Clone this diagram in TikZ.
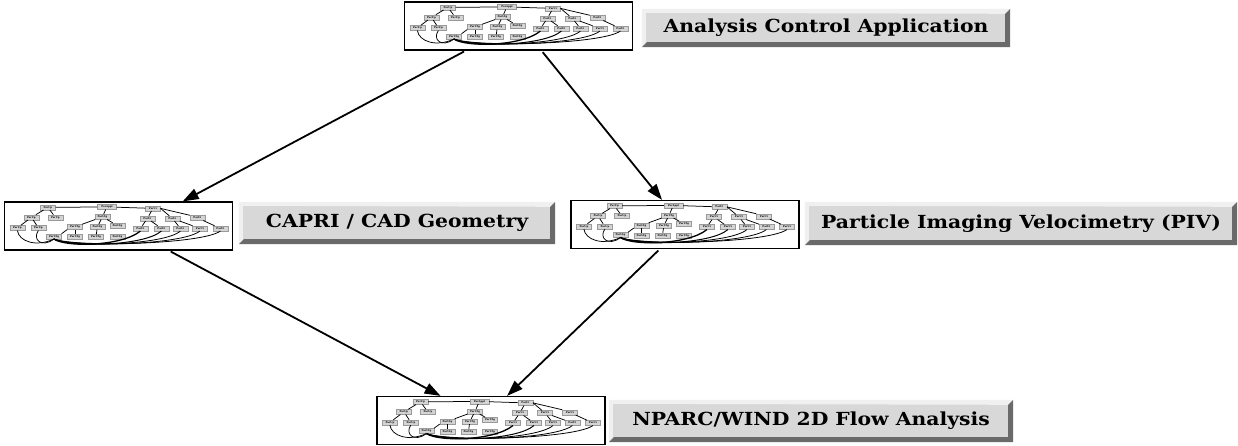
\documentclass[tikz,border=0pt]{standalone}
\usepackage{fontspec}
\setmainfont{DejaVu Serif}
\newfontfamily\lblfont[FakeStretch=1.13]{DejaVu Serif}
\usetikzlibrary{arrows.meta,calc}
\definecolor{bvface}{HTML}{D8D8D8}
\definecolor{bvlight}{HTML}{F0F0F0}
\definecolor{bvdark}{HTML}{6A6A6A}
\definecolor{minifill}{HTML}{D4D4D4}
\definecolor{miniedge}{HTML}{9A9A9A}
\newcommand{\bevelbox}[1]{%
 \fill[bvlight] (#1.south west) -- (#1.north west) -- (#1.north east) -- ($(#1.north east)+(-5,5)$) -- ($(#1.north west)+(4,4)$) -- ($(#1.south west)+(4,-5)$) -- cycle;
 \fill[bvdark] (#1.south west) -- (#1.south east) -- (#1.north east) -- ($(#1.north east)+(-5,5)$) -- ($(#1.south east)+(-5,-5)$) -- ($(#1.south west)+(5,-5)$) -- cycle;}
\tikzset{
 lbl/.style={fill=bvface, inner sep=0pt, font=\lblfont\fontsize{18}{20}\selectfont\bfseries},
 frame/.style={draw=black, line width=1.2pt, minimum width=228, minimum height=48, inner sep=0pt, fill=white},
 mini/.style={draw=miniedge, fill=minifill, line width=0.3pt, inner sep=0.4pt, minimum width=15, minimum height=5, font=\fontsize{2.5}{2.7}\selectfont\bfseries},
 minil/.style={line width=0.75pt},
 arr/.style={line width=1.8pt, -{Triangle[length=16pt,width=11pt]}},
 thumb/.pic={
  \node[mini] (-u0) at (44,6) {ParUp};
  \node[mini,minimum width=19] (-ap) at (103,5.5) {ParAppl};
  \node[mini] (-i0) at (149,7) {ParUi};
  \node[mini] (-u1) at (27.5,16) {ParUp};
  \node[mini] (-u2) at (51.5,16) {ParUp};
  \node[mini] (-f0) at (98.5,15.5) {ParUfg};
  \node[mini] (-i1) at (143.5,17) {ParUi};
  \node[mini] (-i2) at (168.5,17) {ParUi};
  \node[mini] (-i3) at (193.5,16.5) {ParUi};
  \node[mini] (-u3) at (13.5,26.5) {ParUp};
  \node[mini] (-u4) at (34.5,26.5) {ParUp};
  \node[mini] (-f1) at (71,25.5) {ParUfg};
  \node[mini] (-f2) at (93.5,25.5) {ParUfg};
  \node[mini] (-f3) at (113.5,24) {ParUfg};
  \node[mini] (-i4) at (136.5,27) {ParUi};
  \node[mini] (-i5) at (157.5,27) {ParUi};
  \node[mini] (-i6) at (176.5,27) {ParUi};
  \node[mini] (-i7) at (196,27) {ParUi};
  \node[mini] (-i8) at (216.5,27) {ParUi};
  \node[mini] (-f4) at (50,35) {ParUfg};
  \node[mini] (-f5) at (71,35.5) {ParUfg};
  \node[mini] (-f6) at (92,35.5) {ParUfg};
  \node[mini] (-f7) at (113.5,35.5) {ParUfg};
  \draw[minil] (-u0) -- (-ap);
  \draw[minil] (-ap) -- (-i0);
  \draw[minil] (-u0) -- (-u1);
  \draw[minil] (-u0) -- (-u2);
  \draw[minil] (-u1) -- (-u3);
  \draw[minil] (-u1) -- (-u4);
  \draw[minil] (-ap) -- (-f0);
  \draw[minil] (-f0) -- (-f1);
  \draw[minil] (-f0) -- (-f2);
  \draw[minil] (-f0) -- (-f3);
  \draw[minil] (-f1) -- (-f5);
  \draw[minil] (-f2) -- (-f6);
  \draw[minil] (-f1.south west) -- (-f4.north east);
  \draw[minil] (-i0) -- (-i1);
  \draw[minil] (-i0.east) -- (-i2);
  \draw[minil] (-i0.east) -- (-i3.north west);
  \draw[minil] (-i1) -- (-i4);
  \draw[minil] (-i1) -- (-i5);
  \draw[minil] (-i2) -- (-i6);
  \draw[minil] (-i2) -- (-i7);
  \draw[minil] (-i3) -- (-i8);
  \draw[minil] (-u3.south) .. controls (15,40) and (32,46) .. (-f4.south);
  \draw[minil] (-u4.south) .. controls (28,38) and (38,47) .. (-f4.south);
  \draw[line width=1.3pt] (-f4.south) .. controls (62,46) and (118,45) .. (-i4.south);
  \draw[line width=1pt] (-f4.south) .. controls (65,46) and (140,45) .. (-i5.south);
  \draw[line width=0.8pt] (-f4.south) .. controls (68,46) and (160,44) .. (-i6.south);
  \draw[line width=0.8pt] (-f4.south) .. controls (70,46) and (178,44) .. (-i7.south);
  \draw[line width=0.8pt] (-f4.south) .. controls (72,46) and (198,43) .. (-i8.south);
 }
}
\begin{document}
\begin{tikzpicture}[x=1pt,y=-1pt]
\useasboundingbox (0,0) rectangle (1238,446);
% thumbnails
\node[frame] (t1) at (518.5,26) {};
\node[frame] (t2) at (118.5,226) {};
\node[frame] (t3) at (685,224.5) {};
\node[frame] (t4) at (491,420.5) {};
\pic (p1) at (t1.north west) {thumb};
\pic (p2) at (t2.north west) {thumb};
\pic (p3) at (t3.north west) {thumb};
\pic (p4) at (t4.north west) {thumb};
% labels
\node[lbl, minimum width=368, minimum height=38] (l1) at (826,28) {Analysis Control Application};
\bevelbox{l1}
\node[lbl, minimum width=316, minimum height=42] (l2) at (397,223) {CAPRI / CAD Geometry};
\bevelbox{l2}
\node[lbl, minimum width=432, minimum height=43] (l3) at (1021,223.5) {Particle Imaging Velocimetry (PIV)};
\bevelbox{l3}
\node[lbl, minimum width=404, minimum height=42] (l4) at (811,421) {NPARC/WIND 2D Flow Analysis};
\bevelbox{l4}
% arrows
\draw[arr, shorten <=2pt] ($(t1.south west)!0.27!(t1.south east)$) -- ($(t2.north west)!0.78!(t2.north east)$);
\draw[arr, shorten <=2pt] ($(t1.south west)!0.60!(t1.south east)$) -- ($(t3.north west)!0.40!(t3.north east)$);
\draw[arr, shorten <=2pt] ($(t2.south west)!0.72!(t2.south east)$) -- ($(t4.north west)!0.28!(t4.north east)$);
\draw[arr, shorten <=2pt] ($(t3.south west)!0.39!(t3.south east)$) -- ($(t4.north west)!0.57!(t4.north east)$);
\end{tikzpicture}
\end{document}
